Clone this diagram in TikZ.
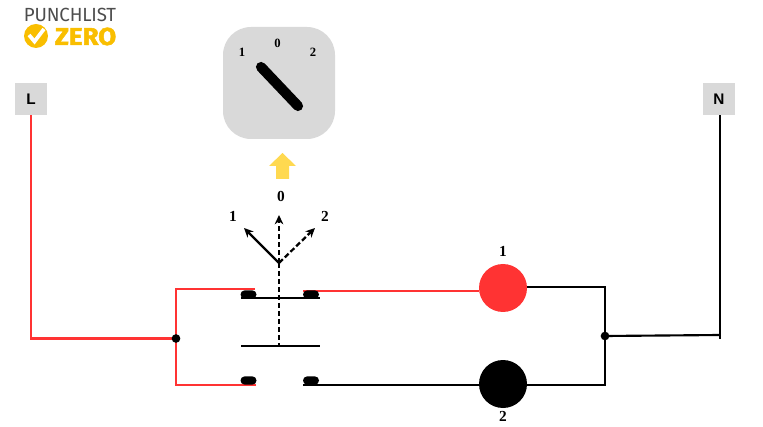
\documentclass[tikz,border=0pt]{standalone}
\usepackage{fontspec}
\setmainfont{Liberation Serif}
\newfontfamily\logofont{Fira Sans}
\newfontfamily\boxfont{Liberation Sans}
\usetikzlibrary{shapes.misc,arrows.meta,backgrounds}
\definecolor{wirered}{HTML}{FF3333}
\definecolor{boxgrey}{HTML}{D9D9D9}
\definecolor{logoyellow}{HTML}{F9BE00}
\definecolor{logogrey}{HTML}{4D4D4D}
\definecolor{arrowyellow}{HTML}{FFD950}
\tikzset{
  term/.style={fill=boxgrey,minimum size=24pt,inner sep=0pt,font=\boxfont\fontsize{11.5}{11.5}\selectfont\bfseries},
  lab/.style={inner sep=0pt,font=\fontsize{11.5}{11.5}\selectfont\bfseries},
  smalllab/.style={inner sep=0pt,font=\fontsize{9.5}{9.5}\selectfont\bfseries},
  pill/.style={rounded rectangle,fill=black,minimum width=12pt,minimum height=6.2pt,inner sep=0pt},
  lamp/.style={circle,minimum size=36pt,inner sep=0pt},
  dot/.style={circle,fill=black,minimum size=6.5pt,inner sep=0pt},
  redw/.style={wirered,line width=1.6pt},
  blkw/.style={black,line width=1.6pt},
  lever/.style={black,line width=1.7pt,-{Stealth[length=7pt,width=6.5pt]}},
}
\begin{document}
\begin{tikzpicture}[x=0.75pt,y=-0.75pt]
\useasboundingbox (0,0) rectangle (763,427);
% logo
\node[inner sep=0pt,text=logogrey] (logotop) at (70,15) {\resizebox{69pt}{10pt}{\logofont\addfontfeature{LetterSpace=-1}PUNCHLIST}};
\node[circle,fill=logoyellow,minimum size=18pt,inner sep=0pt] (logodot) at (36,36) {};
\draw[white,line width=2.8pt] (29,35) -- (34.5,41.5) -- (44,29);
\node[inner sep=0pt,text=logoyellow] (logozero) at (85.5,36.5) {\resizebox{46pt}{13pt}{\logofont\addfontfeature{FakeBold=2}\bfseries ZERO}};
% terminals
\node[term] (L) at (31,99) {L};
\node[term] (N) at (719,99) {N};
% dial
\node[fill=boxgrey,rounded corners=21pt,minimum size=84pt,inner sep=0pt] (dial) at (279,83) {};
\node[smalllab] (d1) at (242,52) {1};
\node[smalllab] (d0) at (277.5,43.5) {0};
\node[smalllab] (d2) at (313,52.5) {2};
\coordinate (hA) at (261,67);
\coordinate (hB) at (298,106);
\draw[black,line width=7.6pt,line cap=round] (hA) -- (hB);
% yellow arrow
\fill[arrowyellow] (282.5,153) -- (296,166) -- (289,166) -- (289,179) -- (276,179) -- (276,166) -- (269,166) -- cycle;
% switch
\coordinate (piv) at (279,263);
\coordinate (tipA) at (244,228);
\coordinate (tipB) at (279,215);
\coordinate (tipC) at (315,228);
\node[lab] (s1) at (233,216) {1};
\node[lab] (s0) at (281,196) {0};
\node[lab] (s2) at (325,216) {2};
\draw[lever] (piv) -- (tipA);
\draw[lever,dash pattern=on 4pt off 2pt] (piv) -- (tipB);
\draw[lever,dash pattern=on 4pt off 2pt] (piv) -- (tipC);
\coordinate (barTL) at (241,298); \coordinate (barTR) at (320,298);
\coordinate (barBL) at (241,346); \coordinate (barBR) at (320,346);
\coordinate (barB) at (279,346);
\draw[blkw] (barTL) -- (barTR);
\draw[blkw] (barBL) -- (barBR);
\draw[black,line width=1.7pt,dash pattern=on 4pt off 2pt] (piv) -- (barB);
% lamps
\node[lamp,fill=wirered] (lampR) at (503,288) {};
\node[lamp,fill=black] (lampK) at (503,384) {};
\node[lab] (l1) at (503,251) {1};
\node[lab] (l2) at (503,416) {2};
% contacts
\node[pill] (c1) at (248.5,294.5) {};
\node[pill] (c2) at (311,294.5) {};
\node[pill] (c3) at (248.5,380.5) {};
\node[pill] (c4) at (311,380.5) {};
% junctions
\node[dot] (jL) at (176,338.5) {};
\node[dot] (jR) at (605,336) {};
% wire ends
\coordinate (c1w) at ([shift={(6.5,-1.5)}]c1.north);
\coordinate (c2w) at ([shift={(-8,0.5)}]c2.north);
\coordinate (c3w) at ([shift={(7.5,0.4)}]c3.south);
\coordinate (c4w) at ([shift={(-8,0.4)}]c4.south);
\coordinate (Nj) at (720,335);
\coordinate (Nend) at (720,339);
\coordinate (Ntop) at ([xshift=0.75pt]N.south);
% wires, under the nodes
\begin{scope}[on background layer]
\draw[redw] (L.south) |- (jL.center);
\draw[redw] (c1w) -| (jL.center);
\draw[redw] (c3w) -| (jL.center);
\draw[wirered,line width=1.5pt] (c2w) -- (c2w -| lampR.west);
\draw[blkw] (c4w) -- (c4w -| lampK.west);
\draw[blkw] ([yshift=0.75pt]lampR.east) -| (jR.center);
\draw[blkw] ([yshift=-0.75pt]lampK.east) -| (jR.center);
\draw[blkw] (jR.center) -- (Nj);
\draw[blkw] (Ntop) -- (Nend);
\end{scope}
\end{tikzpicture}
\end{document}
